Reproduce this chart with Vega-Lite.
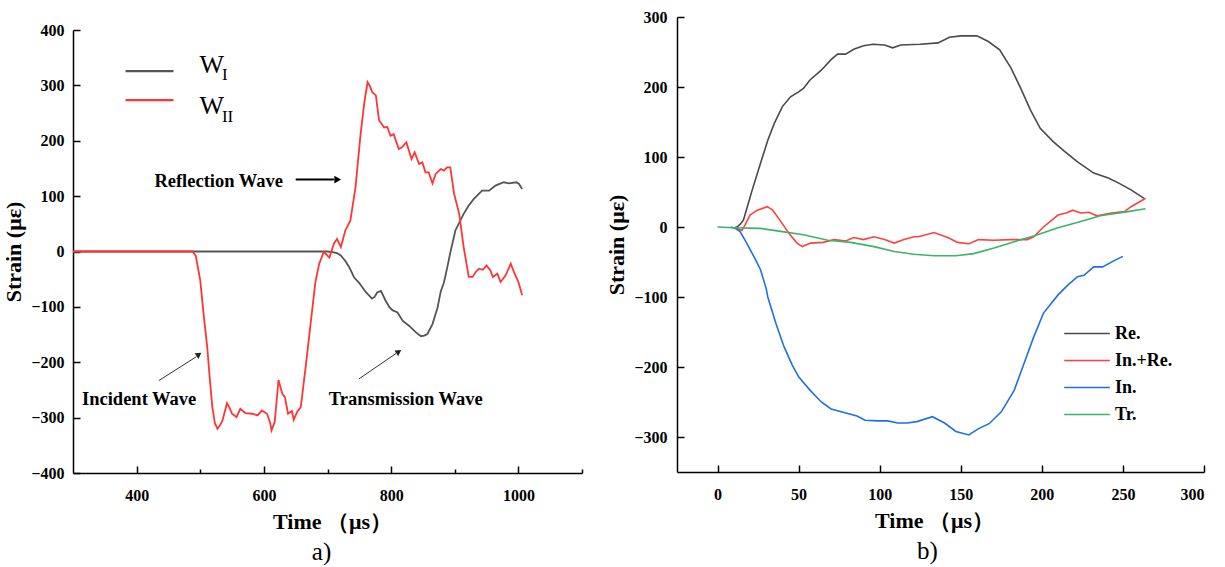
{
  "$schema": "https://vega.github.io/schema/vega-lite/v6.json",
  "background": "white",
  "padding": {"left": 2, "top": 9, "right": 5, "bottom": 5},
  "spacing": 22,
  "resolve": {"scale": {"color": "independent", "strokeWidth": "independent"}, "legend": {"color": "independent", "strokeWidth": "independent"}},
  "datasets": {
    "left": [
      {"t":300,"strain":0,"series":"WI"},{"t":400,"strain":0,"series":"WI"},{"t":500,"strain":0,"series":"WI"},{"t":600,"strain":0,"series":"WI"},{"t":650,"strain":0,"series":"WI"},{"t":700,"strain":0,"series":"WI"},{"t":708,"strain":-1,"series":"WI"},{"t":715,"strain":-3,"series":"WI"},{"t":721,"strain":-7,"series":"WI"},{"t":728,"strain":-17,"series":"WI"},{"t":734,"strain":-28,"series":"WI"},{"t":742,"strain":-47,"series":"WI"},{"t":750,"strain":-57,"series":"WI"},{"t":760,"strain":-73,"series":"WI"},{"t":770,"strain":-85,"series":"WI"},{"t":774,"strain":-82,"series":"WI"},{"t":778,"strain":-74,"series":"WI"},{"t":784,"strain":-71,"series":"WI"},{"t":791,"strain":-88,"series":"WI"},{"t":797,"strain":-100,"series":"WI"},{"t":802,"strain":-106,"series":"WI"},{"t":810,"strain":-110,"series":"WI"},{"t":818,"strain":-125,"series":"WI"},{"t":828,"strain":-134,"series":"WI"},{"t":839,"strain":-146,"series":"WI"},{"t":847,"strain":-153,"series":"WI"},{"t":852,"strain":-152,"series":"WI"},{"t":857,"strain":-149,"series":"WI"},{"t":865,"strain":-131,"series":"WI"},{"t":873,"strain":-101,"series":"WI"},{"t":878,"strain":-72,"series":"WI"},{"t":883,"strain":-56,"series":"WI"},{"t":888,"strain":-30,"series":"WI"},{"t":893,"strain":-2,"series":"WI"},{"t":901,"strain":38,"series":"WI"},{"t":914,"strain":68,"series":"WI"},{"t":922,"strain":83,"series":"WI"},{"t":930,"strain":95,"series":"WI"},{"t":943,"strain":110,"series":"WI"},{"t":954,"strain":110,"series":"WI"},{"t":964,"strain":119,"series":"WI"},{"t":977,"strain":125,"series":"WI"},{"t":985,"strain":123,"series":"WI"},{"t":997,"strain":125,"series":"WI"},{"t":1001,"strain":122,"series":"WI"},{"t":1006,"strain":113,"series":"WI"},
      {"t":300,"strain":0,"series":"WII"},{"t":400,"strain":0,"series":"WII"},{"t":488,"strain":0,"series":"WII"},{"t":493,"strain":-8,"series":"WII"},{"t":500,"strain":-52,"series":"WII"},{"t":505,"strain":-110,"series":"WII"},{"t":511,"strain":-173,"series":"WII"},{"t":515,"strain":-230,"series":"WII"},{"t":519,"strain":-281,"series":"WII"},{"t":523,"strain":-310,"series":"WII"},{"t":527,"strain":-320,"series":"WII"},{"t":531,"strain":-314,"series":"WII"},{"t":535,"strain":-305,"series":"WII"},{"t":542,"strain":-274,"series":"WII"},{"t":546,"strain":-282,"series":"WII"},{"t":550,"strain":-293,"series":"WII"},{"t":557,"strain":-299,"series":"WII"},{"t":563,"strain":-284,"series":"WII"},{"t":571,"strain":-292,"series":"WII"},{"t":582,"strain":-293,"series":"WII"},{"t":590,"strain":-296,"series":"WII"},{"t":597,"strain":-287,"series":"WII"},{"t":605,"strain":-293,"series":"WII"},{"t":610,"strain":-310,"series":"WII"},{"t":612,"strain":-323,"series":"WII"},{"t":617,"strain":-308,"series":"WII"},{"t":620,"strain":-270,"series":"WII"},{"t":623,"strain":-232,"series":"WII"},{"t":629,"strain":-257,"series":"WII"},{"t":633,"strain":-263,"series":"WII"},{"t":638,"strain":-293,"series":"WII"},{"t":644,"strain":-288,"series":"WII"},{"t":647,"strain":-304,"series":"WII"},{"t":652,"strain":-290,"series":"WII"},{"t":658,"strain":-281,"series":"WII"},{"t":666,"strain":-205,"series":"WII"},{"t":674,"strain":-125,"series":"WII"},{"t":681,"strain":-55,"series":"WII"},{"t":687,"strain":-22,"series":"WII"},{"t":694,"strain":-1,"series":"WII"},{"t":698,"strain":-5,"series":"WII"},{"t":703,"strain":-11,"series":"WII"},{"t":710,"strain":14,"series":"WII"},{"t":715,"strain":23,"series":"WII"},{"t":721,"strain":8,"series":"WII"},{"t":728,"strain":38,"series":"WII"},{"t":736,"strain":56,"series":"WII"},{"t":744,"strain":116,"series":"WII"},{"t":752,"strain":212,"series":"WII"},{"t":758,"strain":270,"series":"WII"},{"t":763,"strain":306,"series":"WII"},{"t":767,"strain":298,"series":"WII"},{"t":770,"strain":288,"series":"WII"},{"t":776,"strain":282,"series":"WII"},{"t":781,"strain":237,"series":"WII"},{"t":789,"strain":224,"series":"WII"},{"t":794,"strain":225,"series":"WII"},{"t":799,"strain":209,"series":"WII"},{"t":804,"strain":212,"series":"WII"},{"t":812,"strain":185,"series":"WII"},{"t":817,"strain":188,"series":"WII"},{"t":824,"strain":197,"series":"WII"},{"t":832,"strain":167,"series":"WII"},{"t":837,"strain":179,"series":"WII"},{"t":844,"strain":158,"series":"WII"},{"t":849,"strain":161,"series":"WII"},{"t":854,"strain":143,"series":"WII"},{"t":859,"strain":143,"series":"WII"},{"t":865,"strain":123,"series":"WII"},{"t":870,"strain":140,"series":"WII"},{"t":878,"strain":149,"series":"WII"},{"t":883,"strain":146,"series":"WII"},{"t":888,"strain":152,"series":"WII"},{"t":893,"strain":152,"series":"WII"},{"t":899,"strain":104,"series":"WII"},{"t":907,"strain":68,"series":"WII"},{"t":914,"strain":8,"series":"WII"},{"t":922,"strain":-46,"series":"WII"},{"t":928,"strain":-46,"series":"WII"},{"t":933,"strain":-37,"series":"WII"},{"t":938,"strain":-31,"series":"WII"},{"t":944,"strain":-33,"series":"WII"},{"t":950,"strain":-25,"series":"WII"},{"t":956,"strain":-34,"series":"WII"},{"t":960,"strain":-46,"series":"WII"},{"t":967,"strain":-40,"series":"WII"},{"t":972,"strain":-55,"series":"WII"},{"t":980,"strain":-43,"series":"WII"},{"t":988,"strain":-22,"series":"WII"},{"t":993,"strain":-37,"series":"WII"},{"t":1000,"strain":-55,"series":"WII"},{"t":1006,"strain":-79,"series":"WII"}
    ],
    "leftNotes": [
      {"t":529,"strain":128,"label":"Reflection Wave"},
      {"t":404,"strain":-266,"label":"Incident Wave"},
      {"t":823,"strain":-266,"label":"Transmission Wave"}
    ],
    "leftArrowThick": [{"t":650,"strain":130,"t2":710,"strain2":130}],
    "leftArrowThin": [
      {"t":435,"strain":-233,"t2":494,"strain2":-190},
      {"t":749.5,"strain":-230,"t2":808,"strain2":-184}
    ],
    "leftHeadRight": [{"t":716,"strain":130}],
    "leftHeadDiag": [{"t":498,"strain":-186},{"t":812,"strain":-181}],
    "leftW": [{"t":499,"strain":321.5,"label":"W"},{"t":499,"strain":249,"label":"W"}],
    "leftSub": [{"t":534,"strain":310.6,"label":"I"},{"t":534,"strain":233.5,"label":"II"}],
    "right": [
      {"t":11,"strain":0,"series":"Re."},{"t":12,"strain":0,"series":"Re."},{"t":14,"strain":4,"series":"Re."},{"t":16,"strain":10,"series":"Re."},{"t":19,"strain":34,"series":"Re."},{"t":21.4,"strain":53,"series":"Re."},{"t":26.5,"strain":91,"series":"Re."},{"t":31,"strain":124,"series":"Re."},{"t":35,"strain":148,"series":"Re."},{"t":40,"strain":172,"series":"Re."},{"t":45,"strain":186,"series":"Re."},{"t":50,"strain":193,"series":"Re."},{"t":53,"strain":198,"series":"Re."},{"t":57,"strain":210,"series":"Re."},{"t":64,"strain":224,"series":"Re."},{"t":70,"strain":239,"series":"Re."},{"t":74,"strain":247,"series":"Re."},{"t":79,"strain":247,"series":"Re."},{"t":84,"strain":254,"series":"Re."},{"t":90,"strain":259,"series":"Re."},{"t":96,"strain":261,"series":"Re."},{"t":103,"strain":260,"series":"Re."},{"t":108,"strain":256,"series":"Re."},{"t":113,"strain":260,"series":"Re."},{"t":125,"strain":261,"series":"Re."},{"t":136,"strain":263,"series":"Re."},{"t":143,"strain":271,"series":"Re."},{"t":150,"strain":273,"series":"Re."},{"t":160,"strain":273,"series":"Re."},{"t":167,"strain":265,"series":"Re."},{"t":174,"strain":253,"series":"Re."},{"t":181,"strain":227,"series":"Re."},{"t":187,"strain":198,"series":"Re."},{"t":193,"strain":167,"series":"Re."},{"t":199,"strain":141,"series":"Re."},{"t":207,"strain":122,"series":"Re."},{"t":214,"strain":108,"series":"Re."},{"t":222,"strain":93,"series":"Re."},{"t":232,"strain":77,"series":"Re."},{"t":241,"strain":70,"series":"Re."},{"t":248,"strain":62,"series":"Re."},{"t":255,"strain":53,"series":"Re."},{"t":263,"strain":41,"series":"Re."},
      {"t":11,"strain":-1,"series":"In.+Re."},{"t":12,"strain":-2,"series":"In.+Re."},{"t":15,"strain":-5,"series":"In.+Re."},{"t":17,"strain":3,"series":"In.+Re."},{"t":20,"strain":17,"series":"In.+Re."},{"t":24.5,"strain":24,"series":"In.+Re."},{"t":30.7,"strain":29,"series":"In.+Re."},{"t":34,"strain":24,"series":"In.+Re."},{"t":39,"strain":8,"series":"In.+Re."},{"t":44,"strain":-9,"series":"In.+Re."},{"t":49,"strain":-23,"series":"In.+Re."},{"t":52.3,"strain":-28,"series":"In.+Re."},{"t":57.4,"strain":-23,"series":"In.+Re."},{"t":65,"strain":-22,"series":"In.+Re."},{"t":72,"strain":-18,"series":"In.+Re."},{"t":79,"strain":-20,"series":"In.+Re."},{"t":84,"strain":-15,"series":"In.+Re."},{"t":90,"strain":-18,"series":"In.+Re."},{"t":96.5,"strain":-14,"series":"In.+Re."},{"t":103,"strain":-18,"series":"In.+Re."},{"t":109,"strain":-23,"series":"In.+Re."},{"t":115,"strain":-18,"series":"In.+Re."},{"t":121,"strain":-14,"series":"In.+Re."},{"t":124,"strain":-14,"series":"In.+Re."},{"t":133.5,"strain":-8,"series":"In.+Re."},{"t":142,"strain":-15,"series":"In.+Re."},{"t":148,"strain":-22,"series":"In.+Re."},{"t":155,"strain":-24,"series":"In.+Re."},{"t":161,"strain":-18,"series":"In.+Re."},{"t":170,"strain":-19,"series":"In.+Re."},{"t":181,"strain":-18,"series":"In.+Re."},{"t":191,"strain":-18,"series":"In.+Re."},{"t":195,"strain":-14,"series":"In.+Re."},{"t":201,"strain":0,"series":"In.+Re."},{"t":210,"strain":17,"series":"In.+Re."},{"t":215,"strain":20,"series":"In.+Re."},{"t":219,"strain":24,"series":"In.+Re."},{"t":224,"strain":20,"series":"In.+Re."},{"t":229,"strain":21,"series":"In.+Re."},{"t":234,"strain":16,"series":"In.+Re."},{"t":243,"strain":20,"series":"In.+Re."},{"t":251,"strain":22,"series":"In.+Re."},{"t":255,"strain":29,"series":"In.+Re."},{"t":264,"strain":41,"series":"In.+Re."},
      {"t":8,"strain":0,"series":"In."},{"t":11,"strain":-2,"series":"In."},{"t":14,"strain":-7,"series":"In."},{"t":18,"strain":-23,"series":"In."},{"t":23.5,"strain":-47,"series":"In."},{"t":26.5,"strain":-61,"series":"In."},{"t":30,"strain":-88,"series":"In."},{"t":31,"strain":-100,"series":"In."},{"t":36,"strain":-138,"series":"In."},{"t":41,"strain":-171,"series":"In."},{"t":46,"strain":-197,"series":"In."},{"t":50,"strain":-214,"series":"In."},{"t":57,"strain":-233,"series":"In."},{"t":64,"strain":-250,"series":"In."},{"t":70,"strain":-260,"series":"In."},{"t":78,"strain":-265,"series":"In."},{"t":86,"strain":-270,"series":"In."},{"t":91,"strain":-276,"series":"In."},{"t":99,"strain":-277,"series":"In."},{"t":105,"strain":-277,"series":"In."},{"t":111,"strain":-280,"series":"In."},{"t":117,"strain":-280,"series":"In."},{"t":123,"strain":-278,"series":"In."},{"t":132.5,"strain":-271,"series":"In."},{"t":140,"strain":-280,"series":"In."},{"t":147,"strain":-292,"series":"In."},{"t":155,"strain":-297,"series":"In."},{"t":161,"strain":-288,"series":"In."},{"t":167.5,"strain":-281,"series":"In."},{"t":175,"strain":-264,"series":"In."},{"t":183,"strain":-233,"series":"In."},{"t":189,"strain":-195,"series":"In."},{"t":195,"strain":-157,"series":"In."},{"t":201,"strain":-123,"series":"In."},{"t":210,"strain":-97,"series":"In."},{"t":216,"strain":-83,"series":"In."},{"t":222,"strain":-71,"series":"In."},{"t":226,"strain":-69,"series":"In."},{"t":232,"strain":-57,"series":"In."},{"t":237.5,"strain":-57,"series":"In."},{"t":244.6,"strain":-48,"series":"In."},{"t":250,"strain":-42,"series":"In."},
      {"t":0,"strain":0,"series":"Tr."},{"t":10,"strain":-1,"series":"Tr."},{"t":26.5,"strain":-2,"series":"Tr."},{"t":41,"strain":-7,"series":"Tr."},{"t":53,"strain":-11,"series":"Tr."},{"t":68,"strain":-19,"series":"Tr."},{"t":82,"strain":-22,"series":"Tr."},{"t":96.5,"strain":-28,"series":"Tr."},{"t":109,"strain":-35,"series":"Tr."},{"t":121,"strain":-39,"series":"Tr."},{"t":133.5,"strain":-41,"series":"Tr."},{"t":147,"strain":-41,"series":"Tr."},{"t":158,"strain":-38,"series":"Tr."},{"t":170.5,"strain":-30,"series":"Tr."},{"t":183,"strain":-21,"series":"Tr."},{"t":195,"strain":-13,"series":"Tr."},{"t":210,"strain":-1,"series":"Tr."},{"t":224,"strain":8,"series":"Tr."},{"t":236,"strain":16,"series":"Tr."},{"t":253,"strain":22,"series":"Tr."},{"t":264,"strain":26,"series":"Tr."}
    ]
  },
  "hconcat": [
    {
      "spacing": 1,
      "vconcat": [
        {
          "width": 509,
          "height": 1,
          "data": {"values": [{}]},
          "mark": {"type": "point", "opacity": 0},
          "encoding": {}
        },
        {
          "width": 509,
          "height": 443,
          "title": {"text": "a)", "orient": "bottom", "fontSize": 25, "offset": 8, "dx": -6},
          "layer": [
            {
              "data": {"name": "left"},
              "mark": {"type": "line", "strokeWidth": 1.8},
              "encoding": {
                "x": {"field": "t", "type": "quantitative", "scale": {"domain": [300, 1100], "nice": false},
                  "axis": {"title": "Time （μs）", "values": [400, 500, 600, 700, 800, 900, 1000, 1100],
                    "labelExpr": "datum.value % 200 == 0 ? datum.label : ''",
                    "ticks": true,
                    "tickSize": {"condition": {"test": "datum.value % 200 == 0", "value": -7}, "value": -4},
                    "labelPadding": 21, "titlePadding": 8, "titleX": 259, "format": "d"}},
                "y": {"field": "strain", "type": "quantitative", "scale": {"domain": [-400, 400], "nice": false},
                  "axis": {"title": "Strain (με)", "values": [-400, -300, -200, -100, 0, 100, 200, 300, 400], "ticks": true, "tickSize": -7, "labelPadding": 16, "titlePadding": 5}},
                "color": {"field": "series", "type": "nominal",
                  "scale": {"domain": ["WI", "WII"], "range": ["#555555", "#ff3535"]},
                  "legend": {"orient": "none", "legendX": 51, "legendY": 40, "title": null, "symbolType": "stroke", "symbolSize": 2304, "symbolStrokeWidth": 2.2, "labelExpr": "''", "labelOffset": 0, "clipHeight": 28.4, "padding": 0, "rowPadding": 0}}
              }
            },
            {
              "data": {"name": "leftNotes"},
              "mark": {"type": "text", "font": "Liberation Serif", "fontWeight": "bold", "fontSize": 18.5, "align": "center", "baseline": "middle", "color": "#000"},
              "encoding": {"x": {"field": "t", "type": "quantitative"}, "y": {"field": "strain", "type": "quantitative"}, "text": {"field": "label"}}
            },
            {
              "data": {"name": "leftArrowThick"},
              "mark": {"type": "rule", "strokeWidth": 2, "color": "#000"},
              "encoding": {"x": {"field": "t", "type": "quantitative"}, "y": {"field": "strain", "type": "quantitative"}, "x2": {"field": "t2"}, "y2": {"field": "strain2"}}
            },
            {
              "data": {"name": "leftArrowThin"},
              "mark": {"type": "rule", "strokeWidth": 1, "color": "#333"},
              "encoding": {"x": {"field": "t", "type": "quantitative"}, "y": {"field": "strain", "type": "quantitative"}, "x2": {"field": "t2"}, "y2": {"field": "strain2"}}
            },
            {
              "data": {"name": "leftHeadRight"},
              "mark": {"type": "point", "shape": "triangle-right", "filled": true, "size": 60, "color": "#000", "opacity": 1},
              "encoding": {"x": {"field": "t", "type": "quantitative"}, "y": {"field": "strain", "type": "quantitative"}}
            },
            {
              "data": {"name": "leftHeadDiag"},
              "mark": {"type": "point", "shape": "triangle-up", "angle": 56, "filled": true, "size": 45, "color": "#222", "opacity": 1},
              "encoding": {"x": {"field": "t", "type": "quantitative"}, "y": {"field": "strain", "type": "quantitative"}}
            },
            {
              "data": {"name": "leftW"},
              "mark": {"type": "text", "font": "Liberation Serif", "fontSize": 26, "align": "left", "baseline": "alphabetic", "color": "#000"},
              "encoding": {"x": {"field": "t", "type": "quantitative"}, "y": {"field": "strain", "type": "quantitative"}, "text": {"field": "label"}}
            },
            {
              "data": {"name": "leftSub"},
              "mark": {"type": "text", "font": "Liberation Serif", "fontSize": 17, "align": "left", "baseline": "alphabetic", "color": "#000"},
              "encoding": {"x": {"field": "t", "type": "quantitative"}, "y": {"field": "strain", "type": "quantitative"}, "text": {"field": "label"}}
            }
          ]
        }
      ]
    },
    {
      "width": 527,
      "height": 455,
      "title": {"text": "b)", "orient": "bottom", "fontSize": 25, "offset": 8, "dx": -13},
      "data": {"name": "right"},
      "mark": {"type": "line"},
      "encoding": {
        "x": {"field": "t", "type": "quantitative", "scale": {"domain": [-25, 300], "nice": false},
          "axis": {"title": "Time （μs）", "values": [0, 50, 100, 150, 200, 250, 300], "ticks": true, "tickSize": -7, "labelPadding": 21, "titlePadding": 8, "titleX": 257}},
        "y": {"field": "strain", "type": "quantitative", "scale": {"domain": [-350, 300], "nice": false},
          "axis": {"title": "Strain (με)", "values": [-300, -200, -100, 0, 100, 200, 300], "ticks": true, "tickSize": -7, "labelPadding": 17, "titlePadding": 5}},
        "color": {"field": "series", "type": "nominal",
          "scale": {"domain": ["Re.", "In.+Re.", "In.", "Tr."], "range": ["#4a4a4a", "#ff4040", "#1f6fe6", "#3cb36a"]},
          "legend": {"orient": "none", "legendX": 386, "legendY": 303, "title": null, "symbolType": "stroke", "symbolSize": 2079, "labelOffset": 4, "labelFont": "Liberation Serif", "labelFontWeight": "bold", "labelFontSize": 18, "labelColor": "#000", "clipHeight": 27, "padding": 0, "rowPadding": 0}},
        "strokeWidth": {"field": "series", "type": "nominal",
          "scale": {"domain": ["Re.", "In.+Re.", "In.", "Tr."], "range": [1.6, 1.6, 2.6, 2.0]}}
      }
    }
  ],
  "config": {
    "view": {"stroke": null},
    "axis": {"labelFont": "Liberation Serif", "labelFontSize": 16, "labelFontWeight": "bold", "labelColor": "#000",
      "titleFont": "Liberation Serif", "titleFontSize": 22, "titleFontWeight": "bold", "titleColor": "#000",
      "domainColor": "#000", "domainWidth": 1.5, "tickColor": "#000", "tickWidth": 1.5, "grid": false, "zindex": 1},
    "title": {"font": "Liberation Serif", "fontWeight": "normal", "color": "#000", "anchor": "middle"}
  }
}
